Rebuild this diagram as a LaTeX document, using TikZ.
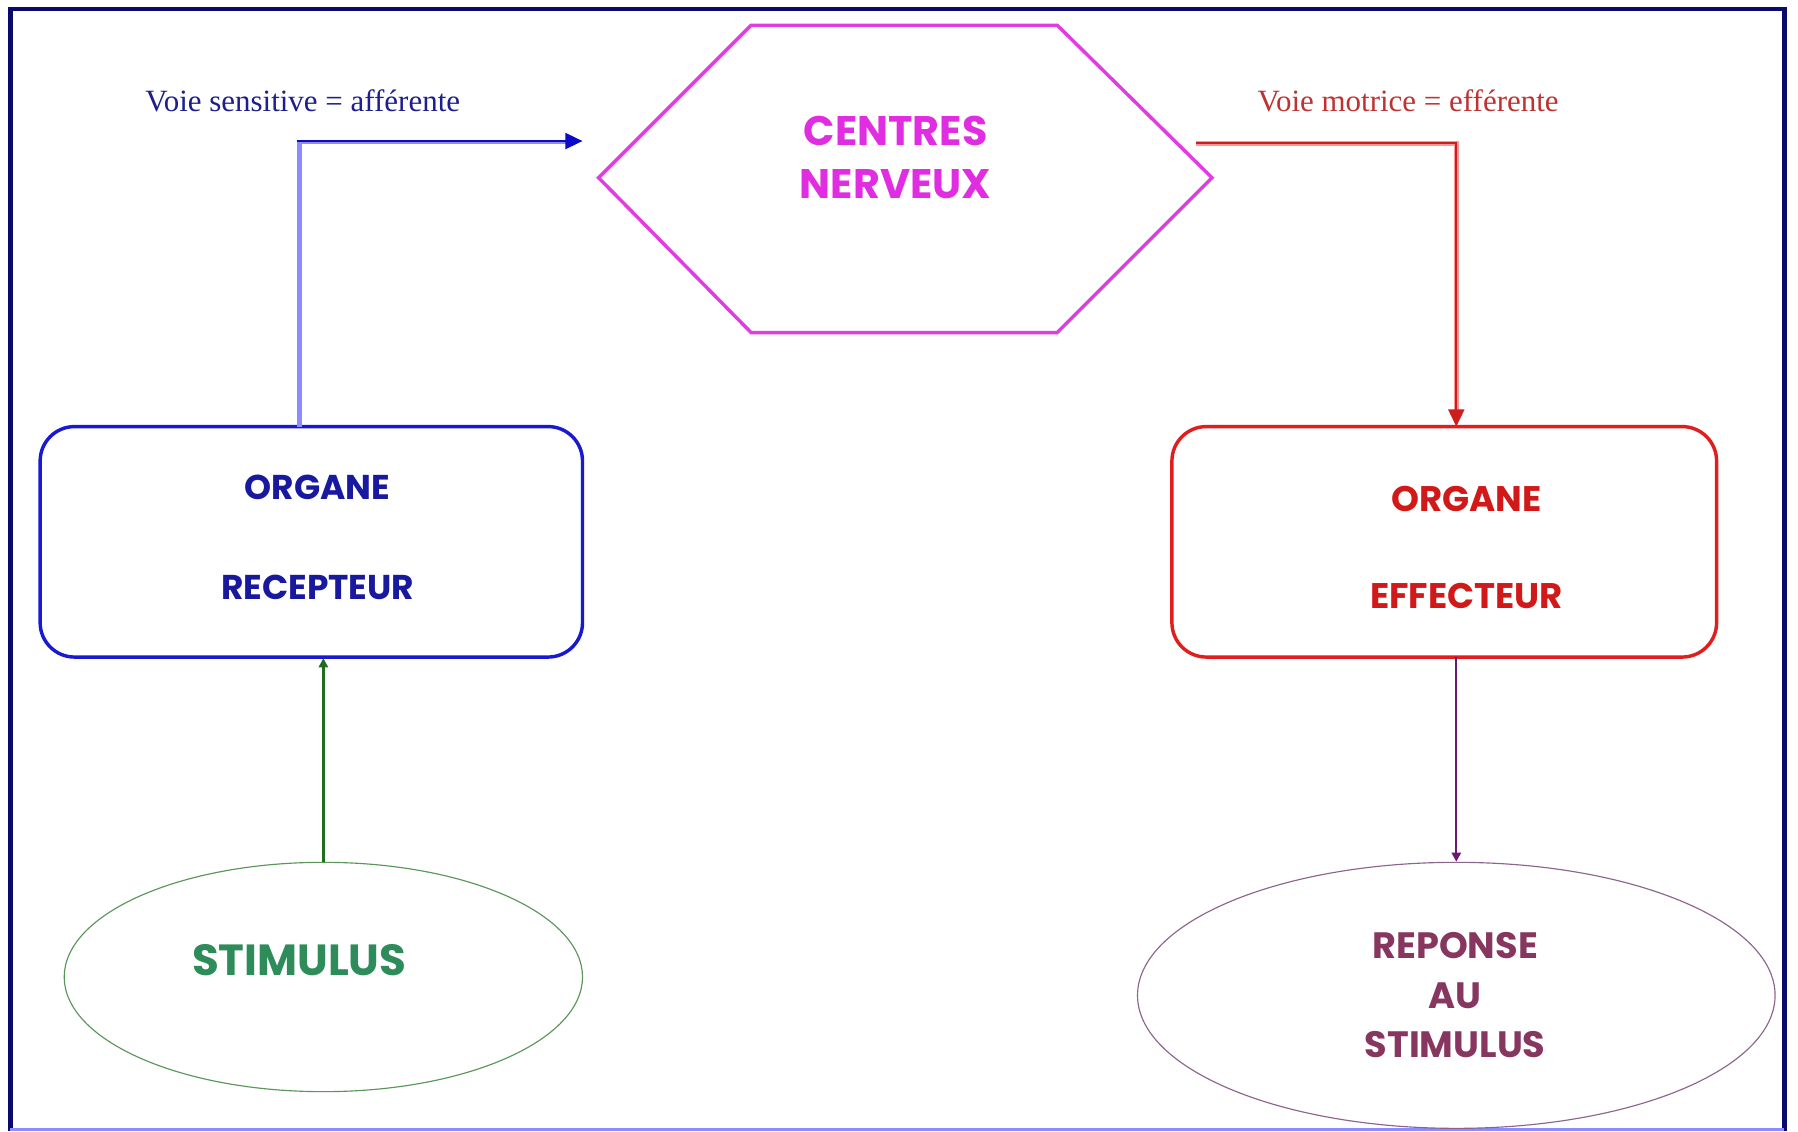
\documentclass[tikz,border=0pt]{standalone}
\usepackage{fontspec}
\setmainfont{Liberation Serif}
\newfontfamily\comic{Poppins}
\usetikzlibrary{arrows.meta,calc,shapes.geometric}
\definecolor{navy}{RGB}{10,10,110}
\definecolor{lblue}{RGB}{140,140,255}
\definecolor{dblue}{RGB}{10,10,200}
\definecolor{boxblue}{RGB}{25,25,210}
\definecolor{txtblue}{RGB}{25,25,160}
\definecolor{labblue}{RGB}{30,30,140}
\definecolor{hexmag}{RGB}{225,60,225}
\definecolor{txtmag}{RGB}{225,45,225}
\definecolor{labred}{RGB}{190,50,50}
\definecolor{pinkl}{RGB}{255,150,150}
\definecolor{dred}{RGB}{205,30,30}
\definecolor{boxred}{RGB}{225,30,30}
\definecolor{txtred}{RGB}{210,25,25}
\definecolor{dgreen}{RGB}{30,110,30}
\definecolor{ellgreen}{RGB}{90,150,90}
\definecolor{txtgreen}{RGB}{45,140,90}
\definecolor{dpurple}{RGB}{105,25,110}
\definecolor{ellpurple}{RGB}{140,100,140}
\definecolor{txtplum}{RGB}{135,55,95}
\tikzset{
  lbl/.style={font=\fontsize{13.5}{16}\selectfont, inner sep=0pt},
  cm/.style={font=\comic\bfseries\fontsize{#1}{#1}\selectfont, inner sep=0pt},
  ell/.style={draw, ellipse, line width=0.5pt, inner sep=0pt},
  bigtip/.style={-{Triangle[length=7.5pt,width=7pt]}},
  smalltip/.style={-{Triangle[length=4pt,width=4pt]}}
}
\begin{document}
\begin{tikzpicture}[x=0.5pt,y=-0.5pt]
\useasboundingbox (0,0) rectangle (1568,987);
\fill[white] (0,0) rectangle (1568,987);
% frame
\draw[navy, line width=2pt] (9,986) -- (9,8) -- (1556,8) -- (1556,986);
\draw[lblue, line width=1pt] (9,985) -- (1556,985);

% hexagon
\coordinate (h1) at (522,155);
\coordinate (h2) at (655,22);
\coordinate (h3) at (922,22);
\coordinate (h4) at (1057,155);
\coordinate (h5) at (922,290);
\coordinate (h6) at (655,290);
\draw[hexmag, line width=1.5pt, line join=miter] (h1) -- (h2) -- (h3) -- (h4) -- (h5) -- (h6) -- cycle;
\node[cm=18, text=txtmag] (cen1) at (781,114) {CENTRES};
\node[cm=18, text=txtmag] (cen2) at (781,161) {NERVEUX};

% boxes
\path (35,372) coordinate (recnw) (508,573) coordinate (recse);
\draw[boxblue, line width=1.5pt, rounded corners=15pt] (recnw) rectangle (recse);
\coordinate (recN) at (261,372);
\coordinate (recS) at (282,574);
\node[cm=15, text=txtblue] (o1) at (277,425) {ORGANE};
\node[cm=15, text=txtblue] (o2) at (277,512) {RECEPTEUR};

\path (1022,372) coordinate (effnw) (1497,573) coordinate (effse);
\draw[boxred, line width=1.5pt, rounded corners=15pt] (effnw) rectangle (effse);
\coordinate (effN) at (1270,372);
\coordinate (effS) at (1270,573);
\node[cm=15.5, text=txtred] (e1) at (1279,435) {ORGANE};
\node[cm=15.5, text=txtred] (e2) at (1279,520) {EFFECTEUR};

% ellipses
\node[ell, draw=ellgreen, minimum width=226pt, minimum height=100pt] (stim) at (282,852) {};
\node[cm=19, text=txtgreen] (st) at (261,837) {STIMULUS};

\node[ell, draw=ellpurple, minimum width=278pt, minimum height=116pt] (rep) at (1270,868) {};
\node[cm=16, text=txtplum] (r1) at (1269,825) {REPONSE};
\node[cm=16, text=txtplum] (r2) at (1269,868) {AU};
\node[cm=16, text=txtplum] (r3) at (1269,911) {STIMULUS};

% labels
\node[lbl, text=labblue] (ls) at (264,88) {Voie sensitive = afférente};
\node[lbl, text=labred] (lm) at (1228,88) {Voie motrice = efférente};

% afferent connector
\coordinate (bcor) at (261,125);
\coordinate (btip) at (508,125);
\draw[lblue, line width=2pt] (recN) -- ($(bcor)+(0,-1)$) -- ($(btip)+(-14,-1)$);
\draw[dblue, line width=0.9pt, bigtip] ($(bcor)+(-2,-2)$) -- ($(btip)+(0,-2)$);

% efferent connector
\coordinate (rst) at (1043,125);
\coordinate (rcor) at (1270,125);
\draw[pinkl, line width=2.2pt] (rst) -- (rcor) -- ($(effN)+(0,-14)$);
\draw[dred, line width=0.9pt, bigtip] (rst) -- (rcor) -- (effN);

% stimulus and response arrows
\draw[dgreen, line width=1pt, smalltip] (stim.north) -- (recS);
\draw[dpurple, line width=1pt, smalltip] (effS) -- (rep.north);
\end{tikzpicture}
\end{document}
